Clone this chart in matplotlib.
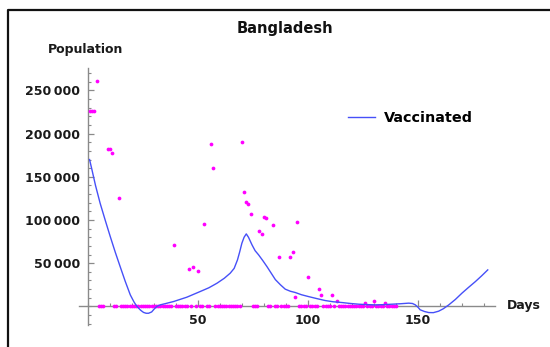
import matplotlib
matplotlib.use("Agg")
import matplotlib.pyplot as plt
from matplotlib.lines import Line2D
from matplotlib.ticker import MultipleLocator, FuncFormatter

plt.rcParams['font.family'] = ['DejaVu Sans']
plt.rcParams['font.weight'] = 'bold'

# daily vaccinated counts (non-zero days)
obs_days = [1, 2, 3, 4, 9, 10, 11, 14, 39, 46, 48, 50, 53, 56, 57,
            70, 71, 72, 73, 74, 78, 79, 80, 81, 84, 87, 92, 93, 94, 95,
            100, 105, 106, 111, 113, 126, 130, 135]
obs_vals = [226000, 226000, 226000, 261000, 182000, 182000, 177000, 125600,
            70800, 43000, 46000, 41000, 95800, 188000, 160000,
            190000, 132000, 120600, 119000, 107400, 87400, 84000, 104000,
            102000, 94000, 57600, 57600, 62700, 11300, 97400,
            34500, 20200, 13000, 13000, 6500, 3700, 6700, 3700]

# days with no vaccinations recorded
zero_days = [d for d in range(5, 141) if d not in obs_days and d != 8]
zero_vals = [0] * len(zero_days)

# fitted curve
fit_days = [0.8, 1.9, 3.5, 5.6, 8, 10.2, 12.5, 14.7, 17, 19.3, 21, 22.3, 24,
            25.3, 26.5, 27.6, 29, 30.2, 31.4, 33, 35, 39, 45, 51, 55, 58.7,
            62, 64.7, 66.5, 68, 69, 70, 71, 72, 73, 74.6, 76, 77.6, 79.5,
            81.4, 83.3, 85.2, 87.5, 89.7, 92, 94.3, 97, 100.3, 104, 107.9,
            111.5, 115.5, 119, 123, 127, 130.6, 134.5, 138.2, 142, 145.8,
            147.5, 148.8, 150, 151, 153, 154.9, 157, 159.4, 161.5, 164, 167,
            170, 173, 176.1, 179, 181.7]
fit_vals = [170000, 158000, 140000, 119400, 99000, 80800, 62500, 46000, 29000,
            13300, 5000, 0, -4500, -7000, -8000, -8000, -6500, -3000, 0, 1800,
            3000, 5600, 10600, 17100, 21500, 26800, 32500, 38400, 44000, 53800,
            63000, 73100, 80000, 83900, 80000, 71200, 64500, 59600, 53000,
            46000, 38500, 31000, 25000, 19900, 17500, 16000, 13500, 11300,
            9000, 6700, 5300, 4400, 3400, 2500, 2000, 1700, 2000, 2500, 3000,
            3700, 3300, 1700, -1000, -4000, -6000, -7200, -7300, -5600, -2800,
            1700, 8000, 15300, 22000, 28700, 35500, 42200]

y_major = [50000, 100000, 150000, 200000, 250000]
x_major = [50, 100, 150]

fig = plt.figure(figsize=(5.5, 3.47), dpi=100)
ax = fig.add_axes([79 / 550, 22 / 347, 416 / 550, 257 / 347])

ax.plot(obs_days + zero_days, obs_vals + zero_vals, 'o', color='#ff00ff',
        ms=2.7, mec='none', zorder=3)
curve, = ax.plot(fit_days, fit_vals, color='#4650f8', lw=1.0, zorder=4,
                 label='Vaccinated')

ax.set_xlim(-4, 185)
ax.set_ylim(-21600, 276000)

axis_grey = '#8a8a8a'
for side in ('top', 'right'):
    ax.spines[side].set_visible(False)
for side in ('left', 'bottom'):
    ax.spines[side].set_position(('data', 0))
    ax.spines[side].set_color(axis_grey)
    ax.spines[side].set_linewidth(1.0)

ax.set_xticks(x_major)
ax.set_yticks(y_major)
ax.xaxis.set_minor_locator(MultipleLocator(10))
ax.yaxis.set_minor_locator(MultipleLocator(10000))
ax.yaxis.set_major_formatter(FuncFormatter(
    lambda v, p: f"{int(v):,}".replace(",", "\u2009")))
ax.tick_params(which='major', direction='in', length=4, width=0.9,
               color=axis_grey, labelsize=9, labelcolor='#1a1a1a')
ax.tick_params(which='minor', direction='in', length=2.5, width=0.8,
               color=axis_grey)
ax.tick_params(axis='x', pad=5.5)
ax.tick_params(axis='y', pad=5.5)

fig.text(285 / 550, 1 - 29 / 347, 'Bangladesh', ha='center', va='center',
         fontsize=10.5, color='#111111')
fig.text(86 / 550, 1 - 49 / 347, 'Population', ha='center', va='center',
         fontsize=9, color='#1a1a1a')
fig.text(507 / 550, 1 - 306 / 347, 'Days', ha='left', va='center',
         fontsize=9, color='#1a1a1a')

ax.legend(handles=[curve], loc='center left',
          bbox_to_anchor=(348 / 550, 1 - 118 / 347),
          bbox_transform=fig.transFigure, frameon=False, borderpad=0,
          borderaxespad=0, handlelength=1.9, handletextpad=0.6,
          prop=dict(weight='bold', size=10.4))

# frame along the top and left edges
fig.add_artist(Line2D([8 / 550, 8 / 550, 1], [0, 1 - 10 / 347, 1 - 10 / 347],
                      transform=fig.transFigure, color='#111111', lw=1.6))

fig.savefig('out.png', dpi=100)
